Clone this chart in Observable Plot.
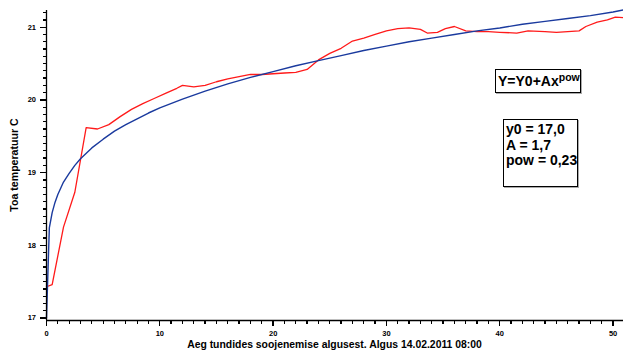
<!DOCTYPE html>
<html>
<head>
<meta charset="utf-8">
<script src="https://cdn.jsdelivr.net/npm/d3@7"></script>
<script src="https://cdn.jsdelivr.net/npm/@observablehq/plot@0.6"></script>
<style>
  html, body { margin: 0; padding: 0; background: #fff; }
  #wrap { position: relative; width: 623px; height: 351px; font-family: "Liberation Sans", Arial, sans-serif; font-weight: bold; }
  .box { position: absolute; border: 1px solid #000; box-shadow: 1px 1px 0 #aaa; background: #fff; box-sizing: border-box; color: #000; }
  #formula { left: 495px; top: 69px; width: 86px; height: 24px; font-size: 14px; line-height: 22px; padding-left: 2px; white-space: nowrap; }
  #formula sup { font-size: 10.5px; vertical-align: 0; position: relative; top: -5px; }
  #params { left: 503px; top: 119px; width: 75px; height: 68px; font-size: 14px; line-height: 15.5px; padding: 2px 0 0 2px; white-space: nowrap; }
  #xtitle { position: absolute; left: 46px; width: 577px; top: 339px; text-align: center; font-size: 10.4px; line-height: 12px; white-space: nowrap; }
  #ytitle { position: absolute; left: 14px; top: 165px; font-size: 10.6px; line-height: 12px; white-space: nowrap; transform: translate(-50%, -50%) rotate(-90deg); }
  #wrap svg g[aria-label$="tick"] path { stroke: #000 !important; stroke-width: 1.3px !important; shape-rendering: crispEdges; }
</style>
</head>
<body>
<div id="wrap"></div>
<script>
// measured series (hours since start, temperature °C)
const hoursMeasured = [0, 0.5, 1.5, 2.5, 3.5, 4.5, 5.5, 6.5, 7.5, 8.5, 9.5, 10.5, 11.5, 12.0, 13.0, 14.0, 15.0, 16.0, 17.0, 18.0, 19.0, 20.0, 21.0, 22.0, 23.0, 24.0, 25.0, 26.0, 27.0, 28.0, 29.0, 30.0, 31.0, 32.0, 33.0, 33.6, 34.5, 35.2, 36.0, 37.0, 38.0, 39.0, 40.0, 41.5, 42.5, 44.0, 45.0, 46.0, 47.0, 47.6, 48.6, 49.5, 50.2, 51.0];
const tempMeasured = [17.43, 17.46, 18.25, 18.73, 19.62, 19.60, 19.66, 19.77, 19.87, 19.95, 20.02, 20.09, 20.16, 20.20, 20.18, 20.20, 20.25, 20.29, 20.32, 20.35, 20.35, 20.36, 20.37, 20.38, 20.42, 20.55, 20.64, 20.71, 20.81, 20.85, 20.90, 20.95, 20.98, 20.99, 20.97, 20.92, 20.93, 20.98, 21.01, 20.95, 20.94, 20.94, 20.93, 20.92, 20.95, 20.94, 20.93, 20.94, 20.95, 21.01, 21.07, 21.10, 21.14, 21.13];
// fitted curve
const hoursFit = [0, 0.25, 0.5, 0.75, 1, 1.5, 2, 2.5, 3, 4, 5, 6, 7, 8, 9, 10, 12, 14, 16, 18, 20, 22, 24, 26, 28, 30, 32, 34, 36, 38, 40, 42, 44, 46, 48, 50, 51];
const tempFit = [17.0, 18.24, 18.45, 18.59, 18.70, 18.87, 18.99, 19.10, 19.19, 19.34, 19.46, 19.57, 19.66, 19.74, 19.82, 19.89, 20.01, 20.12, 20.22, 20.31, 20.39, 20.47, 20.54, 20.61, 20.68, 20.74, 20.80, 20.85, 20.90, 20.95, 20.99, 21.04, 21.08, 21.12, 21.16, 21.21, 21.24];
// tick labels
const xTickValues = [0, 10, 20, 30, 40, 50];
const yTickValues = [17, 18, 19, 20, 21];
const xLabel = "Aeg tundides soojenemise algusest. Algus 14.02.2011 08:00";
const yLabel = "Toa temperatuur C";
const formulaText = "Y=Y0+Ax";
const formulaSup = "pow";
const paramLines = ["y0 = 17,0", "A = 1,7", "pow = 0,23"];

const xDomain = [0, 50.92];
const yDomain = [16.966, 21.23];
const xMinor = d3.range(0, 51, 1);
const yMinor = d3.range(170, 213).map(d => d / 10);

const measured = hoursMeasured.map((h, i) => ({h, t: tempMeasured[i]}));
const fit = hoursFit.map((h, i) => ({h, t: tempFit[i]}));

const chart = Plot.plot({
  width: 623,
  height: 351,
  marginLeft: 46,
  marginRight: 0,
  marginTop: 10,
  marginBottom: 31,
  x: {domain: xDomain, label: null},
  y: {domain: yDomain, label: null},
  style: {fontFamily: "Liberation Sans, Arial, sans-serif", fontWeight: "bold", fontSize: "7.5px", color: "#000", background: "#fff"},
  marks: [
    Plot.axisX({ticks: xMinor, tickSize: 4, tickFormat: () => "", label: null, stroke: "#000", strokeWidth: 1.3}),
    Plot.axisX({ticks: xTickValues, tickSize: 6, tickPadding: 4, tickFormat: d3.format("d"), label: null, stroke: "#000", strokeWidth: 1.3}),
    Plot.axisY({ticks: yMinor, tickSize: 3.5, tickFormat: () => "", label: null, stroke: "#000", strokeWidth: 1.3}),
    Plot.axisY({ticks: yTickValues, tickSize: 6.5, tickPadding: 4, tickFormat: d3.format("d"), label: null, stroke: "#000", strokeWidth: 1.3}),
    Plot.line(measured, {x: "h", y: "t", stroke: "#ff1a1a", strokeWidth: 1.3}),
    Plot.line(fit, {x: "h", y: "t", stroke: "#1a3a9e", strokeWidth: 1.4}),
    Plot.ruleX([xDomain[0]], {stroke: "#000", strokeWidth: 1.3}),
    Plot.ruleY([yDomain[0]], {stroke: "#000", strokeWidth: 1.3})
  ]
});

const wrap = document.getElementById("wrap");
wrap.appendChild(chart);

const xt = document.createElement("div");
xt.id = "xtitle";
xt.textContent = xLabel;
wrap.appendChild(xt);

const yt = document.createElement("div");
yt.id = "ytitle";
yt.textContent = yLabel;
wrap.appendChild(yt);

const f = document.createElement("div");
f.className = "box";
f.id = "formula";
f.textContent = formulaText;
const sup = document.createElement("sup");
sup.textContent = formulaSup;
f.appendChild(sup);
wrap.appendChild(f);

const p = document.createElement("div");
p.className = "box";
p.id = "params";
p.innerHTML = paramLines.map(s => `<div>${s}</div>`).join("");
wrap.appendChild(p);
</script>
</body>
</html>
